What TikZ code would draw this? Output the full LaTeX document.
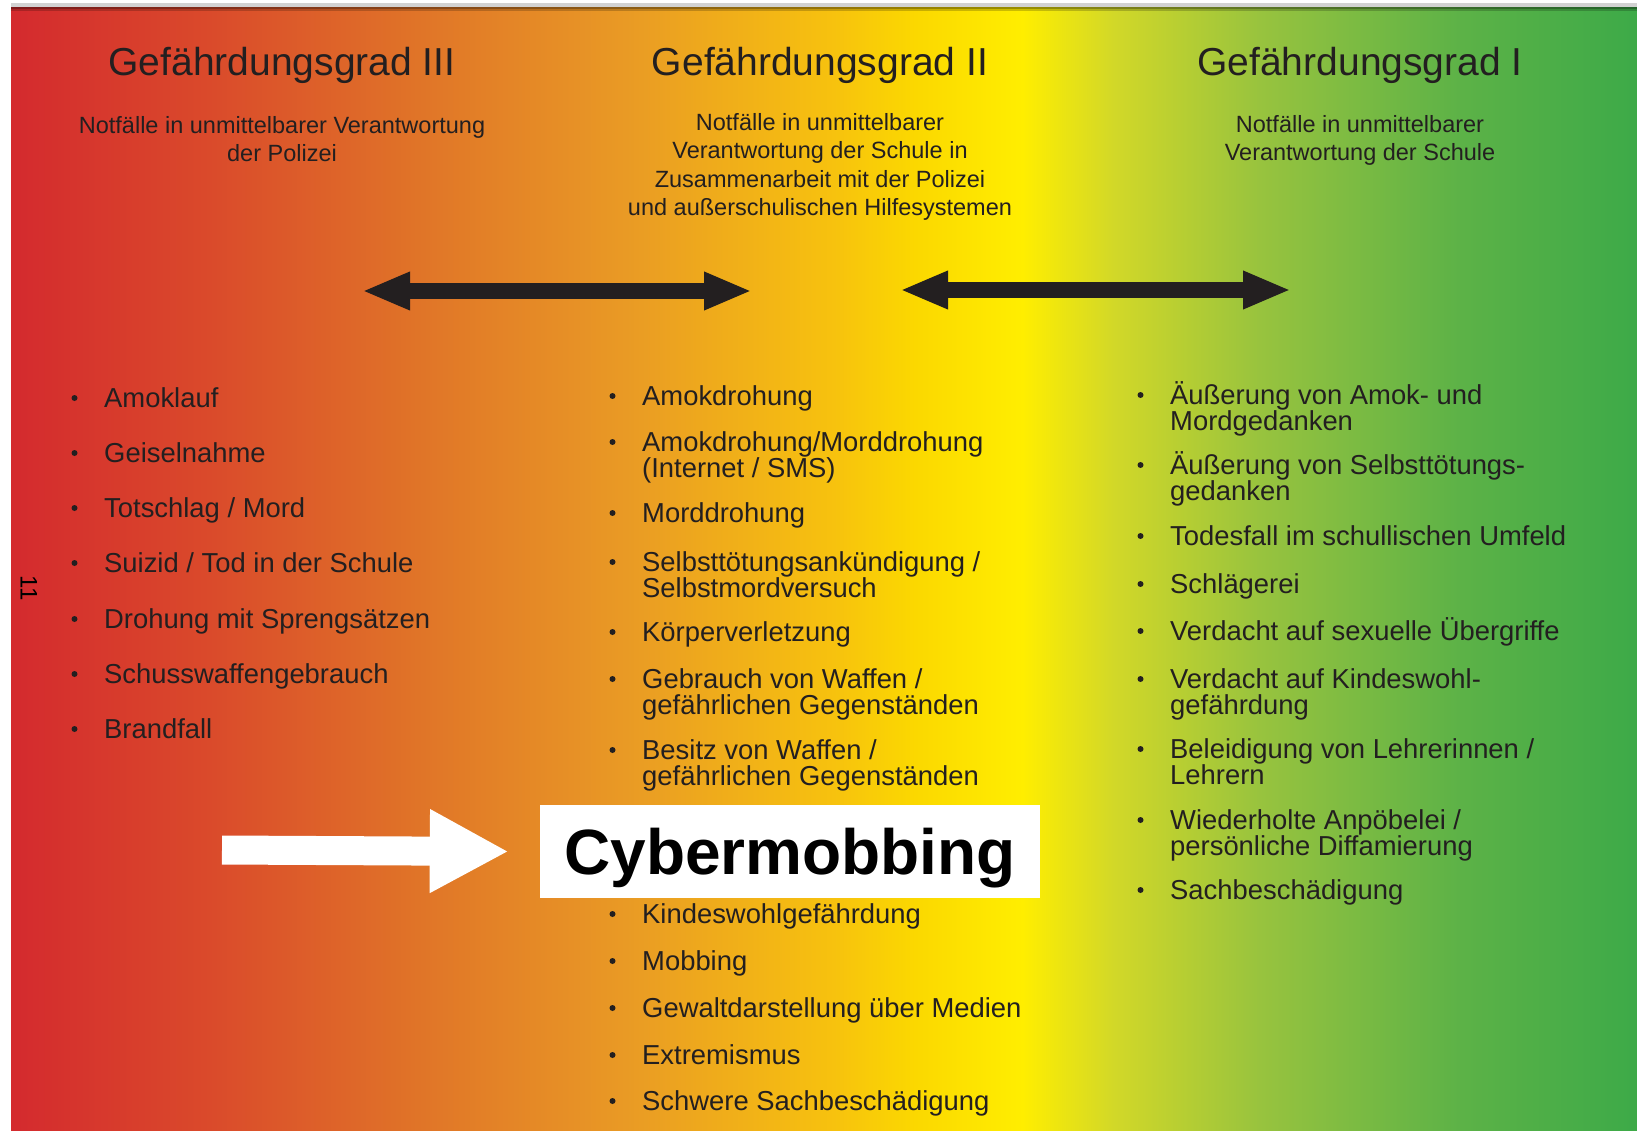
\documentclass[tikz,border=0pt]{standalone}
\usepackage{fontspec}
\setmainfont{Liberation Sans}
\usetikzlibrary{arrows.meta}

% Colours
\definecolor{textgrau}{HTML}{231F20}
\definecolor{vA}{HTML}{D42A2E}
\definecolor{vB}{HTML}{DA4A2B}
\definecolor{vC}{HTML}{E07428}
\definecolor{vD}{HTML}{E99A25}
\definecolor{vE}{HTML}{F7C20E}
\definecolor{vF}{HTML}{FBD800}
\definecolor{vG}{HTML}{FFEE00}
\definecolor{vH}{HTML}{D2D828}
\definecolor{vI}{HTML}{98C33E}
\definecolor{vJ}{HTML}{5CB247}
\definecolor{vK}{HTML}{3DAA48}

% Background: red -> yellow -> green
\pgfdeclarehorizontalshading{verlauf}{100bp}{color(0bp)=(vA); color(25bp)=(vA);
  color(31.1bp)=(vB); color(37.5bp)=(vC); color(43.9bp)=(vD); color(50.3bp)=(vE);
  color(52.8bp)=(vF); color(56.1bp)=(vG); color(58.9bp)=(vH); color(63.4bp)=(vI);
  color(69.6bp)=(vJ); color(75bp)=(vK); color(100bp)=(vK)}

\tikzset{
  titel/.style={anchor=base, inner sep=0pt, text=textgrau, font=\fontsize{39}{44}\selectfont},
  untertitel/.style={anchor=base, align=center, inner sep=0pt, text=textgrau, font=\fontsize{23.5}{28.5}\selectfont},
  eintrag/.style={anchor=base west, align=left, inner sep=0pt, text=textgrau, font=\fontsize{27.4}{26.7}\selectfont},
  doppelpfeil/.style={line width=16pt, textgrau, {Triangle[length=48pt,width=35pt]}-{Triangle[length=48pt,width=35pt]}},
  weisspfeil/.style={line width=29pt, white, -{Triangle[length=79pt,width=78pt]}},
}

\begin{document}
\begin{tikzpicture}[x=1pt,y=-1pt]
    \useasboundingbox (0,0) rectangle (1637,1131);

    % Background
    \shade[shading=verlauf] (11,7) rectangle (1637,1131);
    \fill[gray!35] (11,3) rectangle (1637,7);
    \fill[black,opacity=0.4] (11,7) rectangle (1637,9);
    \fill[black,opacity=0.2] (11,9) rectangle (1637,11);

    % Page number
    \node[rotate=-90, inner sep=0pt, font=\fontsize{24}{24}\selectfont] (seite) at (29,588) {11};

    % Titles (multi-line nodes sit on their last baseline)
    \node[titel] (t3) at (282,76) {Gefährdungsgrad III};
    \node[titel] (t2) at (820,76) {Gefährdungsgrad II};
    \node[titel] (t1) at (1360,76) {Gefährdungsgrad I};

    \node[untertitel] (u3) at (282,162) {Notfälle in unmittelbarer Verantwortung\\der Polizei};
    \node[untertitel] (u2) at (820,216) {Notfälle in unmittelbarer\\Verantwortung der Schule in\\Zusammenarbeit mit der Polizei\\und außerschulischen Hilfesystemen};
    \node[untertitel] (u1) at (1360,161) {Notfälle in unmittelbarer\\Verantwortung der Schule};

    % Arrows between the grades
    \coordinate (a1) at (362,291);
    \coordinate (a2) at (752,291);
    \coordinate (b1) at (900,290);
    \coordinate (b2) at (1291,290);
    \draw[doppelpfeil] (a1) -- (a2);
    \draw[doppelpfeil] (b1) -- (b2);

    % Grade III
    \node[eintrag] (l1) at (104,407) {Amoklauf};
    \node[eintrag] (l2) at (104,462) {Geiselnahme};
    \node[eintrag] (l3) at (104,517) {Totschlag / Mord};
    \node[eintrag] (l4) at (104,572) {Suizid / Tod in der Schule};
    \node[eintrag] (l5) at (104,628) {Drohung mit Sprengsätzen};
    \node[eintrag] (l6) at (104,683) {Schusswaffengebrauch};
    \node[eintrag] (l7) at (104,738) {Brandfall};

    % Grade II
    \node[eintrag] (m1) at (642,405) {Amokdrohung};
    \node[eintrag] (m2) at (642,477.7) {Amokdrohung/Morddrohung\\(Internet / SMS)};
    \node[eintrag] (m3) at (642,522) {Morddrohung};
    \node[eintrag] (m4) at (642,597.7) {Selbsttötungsankündigung /\\Selbstmordversuch};
    \node[eintrag] (m5) at (642,641) {Körperverletzung};
    \node[eintrag] (m6) at (642,714.7) {Gebrauch von Waffen /\\gefährlichen Gegenständen};
    \node[eintrag] (m7) at (642,785.7) {Besitz von Waffen /\\gefährlichen Gegenständen};
    \node[eintrag] (m8) at (642,923) {Kindeswohlgefährdung};
    \node[eintrag] (m9) at (642,970) {Mobbing};
    \node[eintrag] (m10) at (642,1017) {Gewaltdarstellung über Medien};
    \node[eintrag] (m11) at (642,1064) {Extremismus};
    \node[eintrag] (m12) at (642,1110) {Schwere Sachbeschädigung};

    % Grade I
    \node[eintrag] (r1) at (1170,430.7) {Äußerung von Amok- und\\Mordgedanken};
    \node[eintrag] (r2) at (1170,500.7) {Äußerung von Selbsttötungs-\\gedanken};
    \node[eintrag] (r3) at (1170,545) {Todesfall im schullischen Umfeld};
    \node[eintrag] (r4) at (1170,593) {Schlägerei};
    \node[eintrag] (r5) at (1170,640) {Verdacht auf sexuelle Übergriffe};
    \node[eintrag] (r6) at (1170,714.7) {Verdacht auf Kindeswohl-\\gefährdung};
    \node[eintrag] (r7) at (1170,784.7) {Beleidigung von Lehrerinnen /\\Lehrern};
    \node[eintrag] (r8) at (1170,855.7) {Wiederholte Anpöbelei /\\persönliche Diffamierung};
    \node[eintrag] (r9) at (1170,899) {Sachbeschädigung};

    % Bullets (one-line and two-line items)
    \foreach \n in {l1,l2,l3,l4,l5,l6,l7,m1,m3,m5,m8,m9,m10,m11,m12,r3,r4,r5,r9}
        \fill[textgrau] ([xshift=-29.5pt,yshift=9pt]\n.base west) circle (3);
    \foreach \n in {m2,m4,m6,m7,r1,r2,r6,r7,r8}
        \fill[textgrau] ([xshift=-29.5pt,yshift=35.7pt]\n.base west) circle (3);

    % Highlight
    \node[fill=white, minimum width=500pt, minimum height=93pt, inner sep=0pt, text depth=0pt,
          font=\bfseries\fontsize{64}{70}\selectfont] (cyber) at (790,851.5) {Cybermobbing};
    \coordinate (pfeilstart) at (222,850);
    \draw[weisspfeil] (pfeilstart) -- ([xshift=-31pt]cyber.west);
\end{tikzpicture}
\end{document}
